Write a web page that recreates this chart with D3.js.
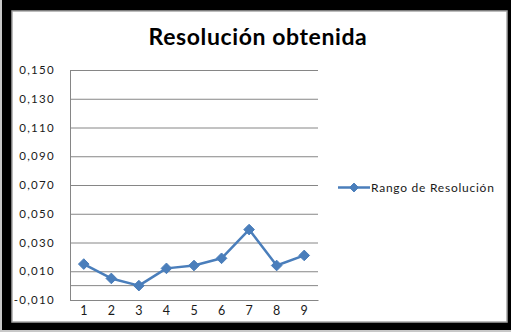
<!DOCTYPE html>
<html>
<head>
<meta charset="utf-8">
<script src="https://cdn.jsdelivr.net/npm/d3@7"></script>
<style>
  html, body { margin: 0; padding: 0; background: #000; }
  svg { display: block; }
</style>
</head>
<body>
<script>
const categories = ["1", "2", "3", "4", "5", "6", "7", "8", "9"];
const values = [0.015, 0.005, 0.000, 0.012, 0.014, 0.019, 0.039, 0.014, 0.021];
const yTicks = [-0.010, 0.010, 0.030, 0.050, 0.070, 0.090, 0.110, 0.130, 0.150];
const seriesName = "Rango de Resolución";
const title = "Resolución obtenida";

const W = 511, H = 332;
const svg = d3.select("body").append("svg").attr("width", W).attr("height", H);

// frame
svg.append("rect").attr("x", 0).attr("y", 0).attr("width", W).attr("height", H).attr("fill", "#000");
svg.append("rect").attr("x", 0).attr("y", 0).attr("width", 2).attr("height", H).attr("fill", "#c8c8c8");
svg.append("rect").attr("x", 0).attr("y", 330).attr("width", W).attr("height", 2).attr("fill", "#c8c8c8");
svg.append("rect").attr("x", 12).attr("y", 11).attr("width", 495).attr("height", 311)
  .attr("fill", "#fff").attr("stroke", "#a6a6a6").attr("stroke-width", 1.5);

const font = "Lato, 'Open Sans', sans-serif";

svg.append("text").attr("x", 258).attr("y", 45).attr("text-anchor", "middle")
  .attr("font-family", font).attr("font-weight", "bold").attr("font-size", 23)
  .attr("letter-spacing", 0.6).attr("fill", "#000").text(title);

const x = d3.scaleBand().domain(categories).range([70, 318]);
const y = d3.scaleLinear().domain([-0.01, 0.15]).range([300, 70]);
const fmt = v => d3.format(".3f")(v).replace(".", ",").replace("−", "-");

// gridlines
const yAxis = d3.axisLeft(y).tickValues(yTicks).tickSize(-(318 - 70)).tickFormat(fmt).tickPadding(15);
const gy = svg.append("g").attr("transform", "translate(70,0)").call(yAxis);
gy.select(".domain").attr("stroke", "#868686");
gy.selectAll(".tick line").attr("stroke", "#868686").attr("stroke-width", 1);
gy.selectAll(".tick text").attr("font-family", font).attr("font-size", 11.5)
  .attr("letter-spacing", 1.3).attr("fill", "#1a1a1a");

// horizontal axis line at 0
svg.append("line").attr("x1", 70).attr("x2", 318).attr("y1", y(0)).attr("y2", y(0))
  .attr("stroke", "#868686").attr("stroke-width", 1);

// category labels
const xAxis = d3.axisBottom(x).tickSize(0).tickPadding(6);
const gx = svg.append("g").attr("transform", "translate(0,300)").call(xAxis);
gx.select(".domain").attr("stroke", "#868686");
gx.selectAll(".tick text").attr("font-family", font).attr("font-size", 12.5).attr("fill", "#1a1a1a");

// series
const color = "#4a7ebb";
const line = d3.line().x((d, i) => x(categories[i]) + x.bandwidth() / 2).y(d => y(d));
svg.append("path").datum(values).attr("d", line).attr("fill", "none")
  .attr("stroke", color).attr("stroke-width", 2.5).attr("stroke-linejoin", "round");
const diamond = d3.symbol().type(d3.symbolDiamond2).size(72);
svg.selectAll(".pt").data(values).enter().append("path")
  .attr("transform", (d, i) => `translate(${x(categories[i]) + x.bandwidth() / 2},${y(d)})`)
  .attr("d", diamond).attr("fill", color).attr("stroke", color).attr("stroke-width", 1);

// legend
const ly = 187.5;
svg.append("line").attr("x1", 338).attr("x2", 370).attr("y1", ly).attr("y2", ly)
  .attr("stroke", color).attr("stroke-width", 2.5);
svg.append("path").attr("transform", `translate(354,${ly})`).attr("d", d3.symbol().type(d3.symbolDiamond2).size(50))
  .attr("fill", color).attr("stroke", color);
svg.append("text").attr("x", 371).attr("y", ly).attr("dy", "0.35em")
  .attr("font-family", font).attr("font-size", 12).attr("letter-spacing", 0.75)
  .attr("fill", "#1a1a1a").text(seriesName);
</script>
</body>
</html>
